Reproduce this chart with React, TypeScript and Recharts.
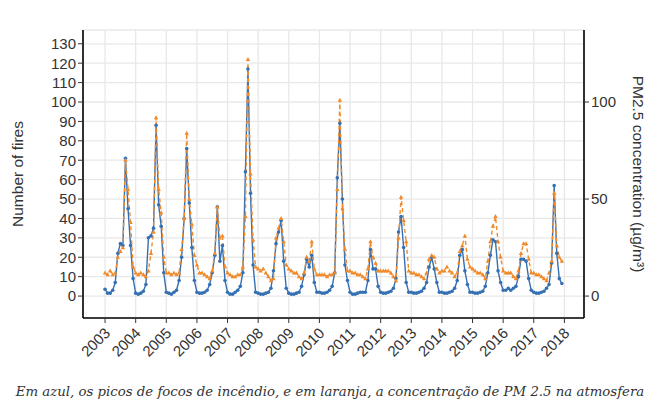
import React from 'react';
import { LineChart, Line, XAxis, YAxis, CartesianGrid } from 'recharts';

const years = [2003, 2004, 2005, 2006, 2007, 2008, 2009, 2010, 2011, 2012, 2013, 2014, 2015, 2016, 2017];
const yearTicks = [2003, 2004, 2005, 2006, 2007, 2008, 2009, 2010, 2011, 2012, 2013, 2014, 2015, 2016, 2017, 2018];
const fireTicks = [0, 10, 20, 30, 40, 50, 60, 70, 80, 90, 100, 110, 120, 130];
const pmTicks = [0, 50, 100];

// monthly fire counts, Jan..Dec for each year
const fires = [
  3.5, 1.5, 1.5, 3, 7, 22, 27, 26, 71, 45, 26, 9, // 2003
  1.5, 1, 1.5, 2.5, 6, 30, 31, 35, 88, 47, 36, 12, // 2004
  2, 1.5, 1, 2, 3, 8, 20, 40, 76, 48, 25, 8, // 2005
  2, 1.5, 1.5, 2, 3, 6, 12, 21, 46, 18, 26, 8, // 2006
  2, 1, 1, 2, 3, 5, 12, 64, 117, 53, 16, 2, // 2007
  1.5, 1, 1, 1.5, 2, 4, 13, 27, 33, 39, 18, 4, // 2008
  1.5, 1, 1, 1.5, 2, 5, 11, 19, 15, 21, 7, 2, // 2009
  2, 1.5, 1.5, 2, 3, 5, 12, 61, 89, 50, 16, 8, // 2010
  2, 1, 1, 1.5, 2, 2, 2, 8, 24, 14, 14, 5, // 2011
  2, 1.5, 1.5, 2, 2.5, 4, 9, 33, 41, 25, 7, 2, // 2012
  2, 1.5, 1.5, 2, 2.5, 4, 7, 15, 20, 14, 7, 2, // 2013
  2, 1.5, 1.5, 2, 2.5, 4, 8, 21, 24, 13, 6, 2, // 2014
  2, 1.5, 1.5, 2, 2.5, 5, 12, 21, 29, 28, 13, 7, // 2015
  3, 3, 4, 3, 4, 5, 10, 19, 19, 18, 9, 3, // 2016
  2, 1.5, 1.5, 2, 2.5, 4, 6, 17, 57, 22, 9, 6.5, // 2017
];

// monthly PM2.5 concentration (ug/m3)
const pm = [
  12, 11, 13, 11, 12, 20, 23, 25, 70, 55, 38, 15, // 2003
  12, 11, 12, 11, 10, 13, 22, 33, 92, 55, 43, 20, // 2004
  12, 12, 11, 12, 11, 12, 24, 40, 84, 50, 37, 21, // 2005
  16, 12, 12, 11, 10, 9, 13, 22, 46, 30, 31, 15, // 2006
  12, 11, 10, 10, 11, 11, 15, 41, 122, 63, 29, 15, // 2007
  14, 13, 14, 12, 10, 8, 9, 30, 35, 40, 28, 16, // 2008
  14, 13, 12, 12, 10, 9, 12, 20, 18, 28, 14, 11, // 2009
  11, 11, 11, 10, 11, 11, 12, 55, 101, 45, 24, 13, // 2010
  13, 12, 12, 11, 11, 10, 9, 14, 28, 20, 17, 13, // 2011
  13, 13, 13, 13, 12, 10, 8, 30, 51, 39, 28, 13, // 2012
  12, 12, 11, 11, 10, 9, 12, 19, 21, 20, 14, 12, // 2013
  13, 13, 15, 13, 12, 10, 12, 23, 26, 31, 19, 15, // 2014
  14, 13, 12, 12, 11, 9, 18, 28, 36, 41, 28, 20, // 2015
  13, 12, 12, 12, 10, 9, 13, 22, 27, 27, 19, 12, // 2016
  12, 11, 11, 10, 9, 8, 12, 18, 53, 26, 20, 18, // 2017
];

const data = fires.map((f, i) => ({
  t: years[Math.floor(i / 12)] + (i % 12) / 12,
  fires: f,
  pm: pm[i],
}));

const BLUE = '#3470b3';
const ORANGE = '#f08a2a';
const TEXT = '#333333';
const FONT = '"Liberation Sans", Arial, sans-serif';

const YearTick = (props: any) => {
  const { x, y, payload } = props;
  return (
    <text
      x={0}
      y={0}
      transform={`translate(${x + 6},${y + 11}) rotate(-45)`}
      textAnchor="end"
      fontSize={15}
      fontFamily={FONT}
      fill={TEXT}
    >
      {payload.value}
    </text>
  );
};

const Tri = (props: any) => {
  const { cx, cy } = props;
  if (cx == null || cy == null) return null;
  return <path d={`M${cx},${cy - 2.4}L${cx + 2.2},${cy + 1.6}L${cx - 2.2},${cy + 1.6}Z`} fill={ORANGE} />;
};

export default function App() {
  return (
    <div style={{ position: 'absolute', left: 0, top: 0, width: 660, height: 412, background: '#fff' }}>
      <LineChart width={660} height={372} data={data} margin={{ top: 30, right: 0, bottom: 0, left: 0 }}>
        <CartesianGrid yAxisId="left" stroke="#e8e8e8" strokeWidth={1.3} />
        <XAxis
          dataKey="t"
          type="number"
          domain={[2002.28, 2018.64]}
          allowDataOverflow
          ticks={yearTicks}
          interval={0}
          height={54}
          tick={<YearTick />}
          tickSize={5}
          tickMargin={0}
          axisLine={{ stroke: '#000', strokeWidth: 1.6 }}
          tickLine={{ stroke: TEXT }}
        />
        <YAxis
          yAxisId="left"
          width={83}
          domain={[-11.3, 137.1]}
          allowDataOverflow
          ticks={fireTicks}
          interval={0}
          tickSize={5}
          tickMargin={2}
          tick={{ fontSize: 15, fill: TEXT, fontFamily: FONT }}
          axisLine={{ stroke: '#000', strokeWidth: 1.6 }}
          tickLine={{ stroke: TEXT }}
        />
        <YAxis
          yAxisId="right"
          orientation="right"
          width={76}
          domain={[-11.3, 137.1]}
          allowDataOverflow
          ticks={pmTicks}
          interval={0}
          tickSize={5}
          tickMargin={2}
          tick={{ fontSize: 15, fill: TEXT, fontFamily: FONT }}
          axisLine={{ stroke: '#000', strokeWidth: 1.6 }}
          tickLine={{ stroke: TEXT }}
        />
        <Line
          yAxisId="left"
          dataKey="fires"
          stroke={BLUE}
          strokeWidth={1.4}
          dot={{ r: 1.8, fill: BLUE, stroke: 'none' }}
          isAnimationActive={false}
        />
        <Line
          yAxisId="right"
          dataKey="pm"
          stroke={ORANGE}
          strokeWidth={1.4}
          strokeDasharray="4 3"
          dot={<Tri />}
          isAnimationActive={false}
        />
      </LineChart>
      <svg width={660} height={372} style={{ position: 'absolute', left: 0, top: 0, pointerEvents: 'none' }}>
        <text
          x={19}
          y={174}
          transform="rotate(-90 19 174)"
          textAnchor="middle"
          dominantBaseline="middle"
          fontSize={15.5}
          fontFamily={FONT}
          fill={TEXT}
        >
          Number of fires
        </text>
        <text
          x={637}
          y={174}
          transform="rotate(90 637 174)"
          textAnchor="middle"
          dominantBaseline="middle"
          fontSize={15.5}
          fontFamily={FONT}
          fill={TEXT}
        >
          PM2.5 concentration (µg/m³)
        </text>
      </svg>
      <div
        style={{
          position: 'absolute',
          left: 0,
          top: 383,
          width: 660,
          textAlign: 'center',
          fontFamily: '"DejaVu Serif", serif',
          fontStyle: 'italic',
          fontSize: 13.3,
          lineHeight: '18px',
          color: TEXT,
        }}
      >
        Em azul, os picos de focos de incêndio, e em laranja, a concentração de PM 2.5 na atmosfera
      </div>
    </div>
  );
}
